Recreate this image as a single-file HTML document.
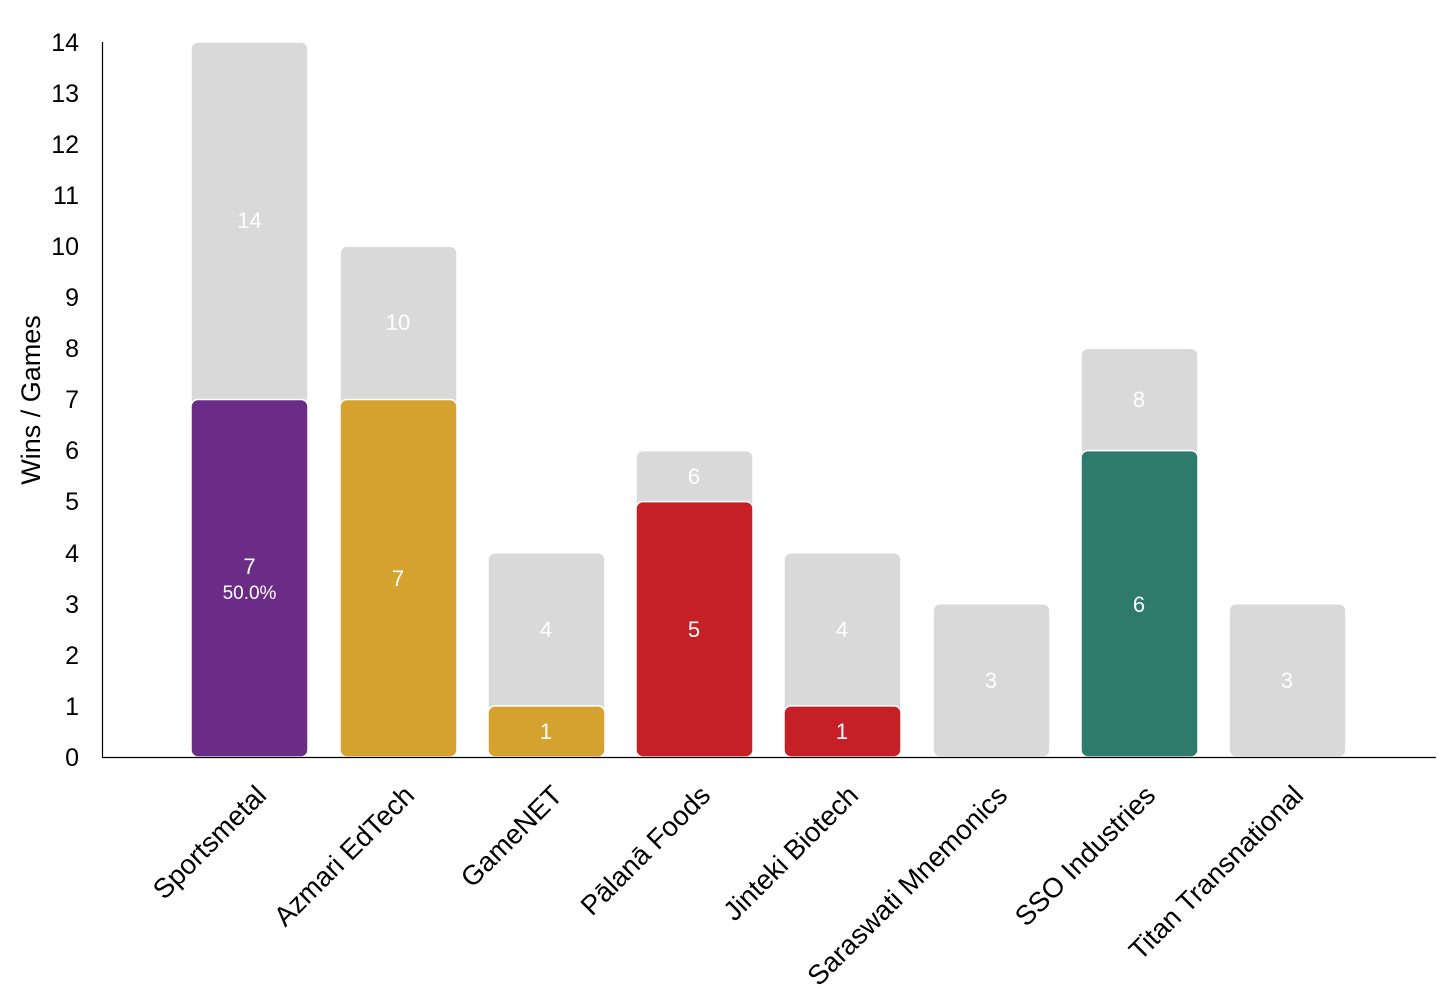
<!DOCTYPE html>
<html><head><meta charset="utf-8"><style>
html,body{margin:0;padding:0;background:#fff;}
svg{display:block;font-family:"Liberation Sans",Arial,sans-serif;}
</style></head><body>
<svg width="1438" height="1000" viewBox="0 0 1438 1000">
<g font-size="25" fill="#000" text-anchor="end">
<text x="79" y="766">0</text>
<text x="79" y="715">1</text>
<text x="79" y="664">2</text>
<text x="79" y="613">3</text>
<text x="79" y="562">4</text>
<text x="79" y="510">5</text>
<text x="79" y="459">6</text>
<text x="79" y="408">7</text>
<text x="79" y="357">8</text>
<text x="79" y="306">9</text>
<text x="79" y="255">10</text>
<text x="79" y="204">11</text>
<text x="79" y="153">12</text>
<text x="79" y="102">13</text>
<text x="79" y="51">14</text>
</g>
<text transform="translate(40,400) rotate(-90)" font-size="27" text-anchor="middle">Wins / Games</text>
<g stroke="#fff" stroke-width="1.5">
<rect x="191" y="42" width="117" height="715" rx="7" fill="#d9d9d9"/>
<rect x="191" y="399.5" width="117" height="357.5" rx="7" fill="#6a2c86"/>
<rect x="340" y="246.3" width="117" height="510.7" rx="7" fill="#d9d9d9"/>
<rect x="340" y="399.5" width="117" height="357.5" rx="7" fill="#d5a230"/>
<rect x="488" y="552.7" width="117" height="204.3" rx="7" fill="#d9d9d9"/>
<rect x="488" y="705.9" width="117" height="51.1" rx="7" fill="#d5a230"/>
<rect x="636" y="450.6" width="117" height="306.4" rx="7" fill="#d9d9d9"/>
<rect x="636" y="501.6" width="117" height="255.4" rx="7" fill="#c62027"/>
<rect x="784" y="552.7" width="117" height="204.3" rx="7" fill="#d9d9d9"/>
<rect x="784" y="705.9" width="117" height="51.1" rx="7" fill="#c62027"/>
<rect x="933" y="603.8" width="117" height="153.2" rx="7" fill="#d9d9d9"/>
<rect x="1081" y="348.4" width="117" height="408.6" rx="7" fill="#d9d9d9"/>
<rect x="1081" y="450.6" width="117" height="306.4" rx="7" fill="#2e7a6b"/>
<rect x="1229" y="603.8" width="117" height="153.2" rx="7" fill="#d9d9d9"/>
</g>
<line x1="102.5" y1="42" x2="102.5" y2="758" stroke="#000" stroke-width="1.2"/>
<line x1="102" y1="757.5" x2="1436" y2="757.5" stroke="#000" stroke-width="1.2"/>
<g fill="#fff" font-size="22" text-anchor="middle">
<text x="249.5" y="228">14</text>
<text x="249.5" y="574">7</text>
<text x="249.5" y="599" font-size="19">50.0%</text>
<text x="398" y="330">10</text>
<text x="398" y="586">7</text>
<text x="546" y="637">4</text>
<text x="546" y="739">1</text>
<text x="694" y="484">6</text>
<text x="694" y="637">5</text>
<text x="842" y="637">4</text>
<text x="842" y="739">1</text>
<text x="991" y="688">3</text>
<text x="1139" y="407">8</text>
<text x="1139" y="612">6</text>
<text x="1287" y="688">3</text>
</g>
<g font-size="27.5" text-anchor="end" fill="#000">
<text transform="translate(268,797) rotate(-45)">Sportsmetal</text>
<text transform="translate(416,797) rotate(-45)">Azmari EdTech</text>
<text transform="translate(564,797) rotate(-45)">GameNET</text>
<text transform="translate(712,797) rotate(-45)">Pālanā Foods</text>
<text transform="translate(860,797) rotate(-45)">Jinteki Biotech</text>
<text transform="translate(1009,797) rotate(-45)">Saraswati Mnemonics</text>
<text transform="translate(1157,797) rotate(-45)">SSO Industries</text>
<text transform="translate(1305,797) rotate(-45)">Titan Transnational</text>
</g>
</svg>
</body></html>
